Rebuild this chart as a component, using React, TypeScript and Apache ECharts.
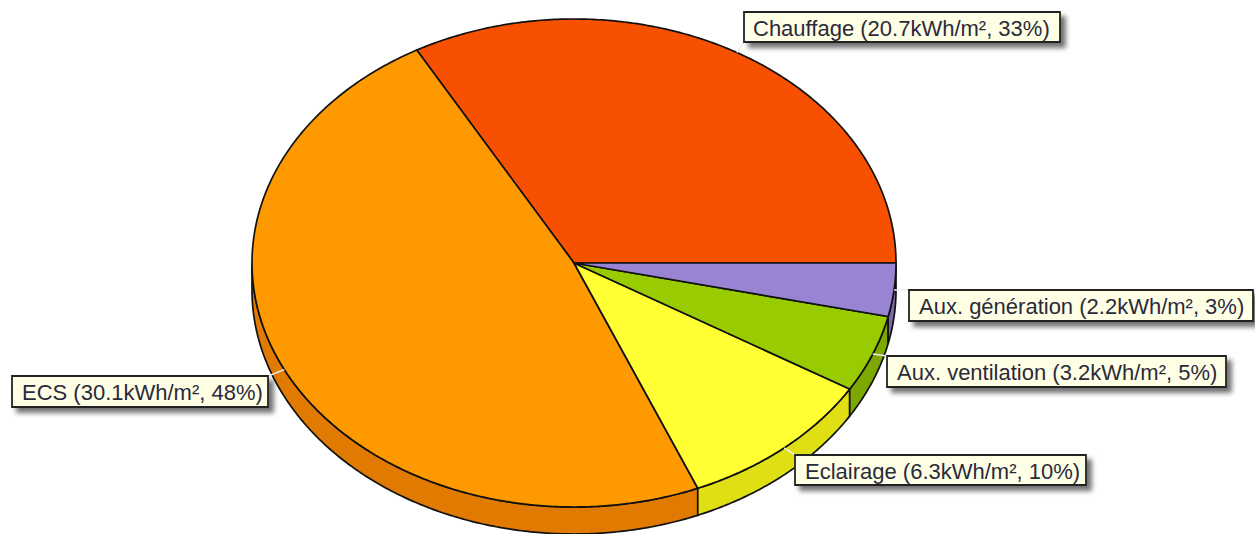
import React, { useEffect, useRef } from "react";
import * as echarts from "echarts";

const categories = ["Chauffage", "ECS", "Eclairage", "Aux. ventilation", "Aux. génération"];
const energyValues = [20.7, 30.1, 6.3, 3.2, 2.2];
const percentLabels = [33, 48, 10, 5, 3];

const faceColors = ["#F75000", "#FF9900", "#FFFF33", "#99CC00", "#9983D3"];
const wallColors = ["#C44000", "#E07A00", "#DFDF14", "#7DA800", "#7A69A9"];

// label boxes: left, top, right, bottom, text start, leader end
const labelBoxes = [
  { x0: 744, y0: 12, x1: 1060, y1: 42, tx: 753, lx: 744, ly: 42 },
  { x0: 12, y0: 376, x1: 268, y1: 407, tx: 22, lx: 268, ly: 376 },
  { x0: 795, y0: 455, x1: 1086, y1: 485, tx: 805, lx: 795, ly: 455 },
  { x0: 887, y0: 356, x1: 1226, y1: 387, tx: 897, lx: 887, ly: 356 },
  { x0: 909, y0: 290, x1: 1253, y1: 321, tx: 919, lx: 909, ly: 290 },
];

const CX = 574;
const CY = 263;
const RX = 322;
const RY = 244;
const DEPTH = 27;

const total = energyValues.reduce((a, b) => a + b, 0);
const toAngle = (v: number) => (v / total) * Math.PI * 2;

function sliceRange(i: number): [number, number] {
  let a = 0;
  for (let k = 0; k < i; k++) a += toAngle(energyValues[k]);
  return [a, a + toAngle(energyValues[i])];
}
const rim = (a: number, dy = 0): [number, number] => [
  CX + RX * Math.cos(a),
  CY - RY * Math.sin(a) + dy,
];
function arcPoints(a0: number, a1: number, dy = 0) {
  const n = Math.max(2, Math.ceil((a1 - a0) / 0.01));
  const out: [number, number][] = [];
  for (let i = 0; i <= n; i++) out.push(rim(a0 + ((a1 - a0) * i) / n, dy));
  return out;
}

const chartData = categories.map((name, i) => ({ name, value: energyValues[i] }));

export default function App() {
  const ref = useRef<HTMLDivElement>(null);
  useEffect(() => {
    document.body.style.margin = "0";
    const chart = echarts.init(ref.current!, undefined, { renderer: "svg" });
    chart.setOption({
      animation: false,
      backgroundColor: "#ffffff",
      tooltip: { show: false },
      series: [
        {
          type: "custom",
          coordinateSystem: "none",
          silent: true,
          data: chartData,
          z: 1,
          renderItem: (p: any) => {
            const [a0, a1] = sliceRange(p.dataIndex);
            const lo = Math.max(a0, Math.PI);
            if (a1 <= lo) return { type: "group", children: [] };
            const top = arcPoints(lo, a1);
            const bottom = arcPoints(lo, a1, DEPTH).reverse();
            return {
              type: "polygon",
              shape: { points: [...top, ...bottom] },
              style: { fill: wallColors[p.dataIndex], stroke: "#111", lineWidth: 1.7 },
            };
          },
        },
        {
          type: "custom",
          coordinateSystem: "none",
          silent: true,
          data: chartData,
          z: 2,
          renderItem: (p: any) => {
            const [a0, a1] = sliceRange(p.dataIndex);
            return {
              type: "polygon",
              shape: { points: [[CX, CY], ...arcPoints(a0, a1)] },
              style: { fill: faceColors[p.dataIndex], stroke: "#111", lineWidth: 1.7 },
            };
          },
        },
        {
          type: "custom",
          coordinateSystem: "none",
          silent: true,
          data: chartData,
          z: 3,
          renderItem: (p: any) => {
            const i = p.dataIndex;
            const [a0, a1] = sliceRange(i);
            const b = labelBoxes[i];
            const start = rim((a0 + a1) / 2);
            const text = `${categories[i]} (${energyValues[i]}kWh/m², ${percentLabels[i]}%)`;
            return {
              type: "group",
              children: [
                {
                  type: "line",
                  shape: { x1: start[0], y1: start[1], x2: b.lx, y2: b.ly },
                  style: { stroke: "#EEEEEE", lineWidth: 1.5 },
                },
                {
                  type: "rect",
                  shape: { x: b.x0, y: b.y0, width: b.x1 - b.x0, height: b.y1 - b.y0 },
                  style: {
                    fill: "#FFFFE6",
                    stroke: "#222222",
                    lineWidth: 1.8,
                    shadowBlur: 5,
                    shadowOffsetX: 5,
                    shadowOffsetY: 5,
                    shadowColor: "rgba(0,0,0,0.55)",
                  },
                },
                {
                  type: "text",
                  style: {
                    x: b.tx,
                    y: (b.y0 + b.y1) / 2 + 1,
                    text,
                    fill: "#2A2A3A",
                    fontFamily: "Liberation Sans",
                    fontSize: 22,
                    align: "left",
                    verticalAlign: "middle",
                  },
                },
              ],
            };
          },
        },
      ],
    });
    return () => chart.dispose();
  }, []);
  return <div ref={ref} style={{ position: "absolute", left: 0, top: 0, width: 1255, height: 534 }} />;
}
